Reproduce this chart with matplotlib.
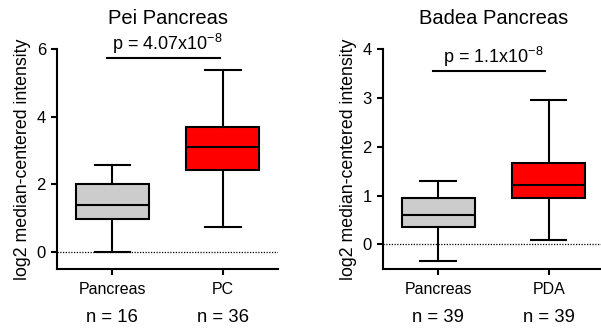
import matplotlib
matplotlib.use("Agg")
import matplotlib.pyplot as plt

plt.rcParams['font.family'] = ['Liberation Sans', 'DejaVu Sans']
plt.rcParams['mathtext.fontset'] = 'custom'
plt.rcParams['mathtext.rm'] = 'Liberation Sans'
plt.rcParams['mathtext.it'] = 'Liberation Sans'

# ---- data ----
pei_titles = "Pei Pancreas"
pei_cats = ["Pancreas", "PC"]
pei_n = [16, 36]
# whislo, q1, med, q3, whishi
pei_pancreas = [0.0, 0.98, 1.40, 2.00, 2.58]
pei_pc = [0.75, 2.43, 3.10, 3.69, 5.39]
pei_p = "p = 4.07x10$^{\\mathregular{-8}}$"
pei_bar_y = 5.74
pei_yticks = [0, 2, 4, 6]
pei_ylim = (-0.5, 6)

badea_title = "Badea Pancreas"
badea_cats = ["Pancreas", "PDA"]
badea_n = [39, 39]
badea_pancreas = [-0.35, 0.35, 0.60, 0.95, 1.30]
badea_pda = [0.08, 0.955, 1.21, 1.66, 2.96]
badea_p = "p = 1.1x10$^{\\mathregular{-8}}$"
badea_bar_y = 3.56
badea_yticks = [0, 1, 2, 3, 4]
badea_ylim = (-0.5, 4)

colors = ["#cccccc", "#ff0000"]

fig = plt.figure(figsize=(6.01, 3.29), dpi=100)
ax1 = fig.add_axes([0.095, 0.183, 0.368, 0.668])
ax2 = fig.add_axes([0.637, 0.183, 0.368, 0.668])


def draw(ax, title, cats, ns, boxes, ptxt, bar_y, yticks, ylim):
    stats = []
    for c, b in zip(cats, boxes):
        stats.append(dict(label=c, whislo=b[0], q1=b[1], med=b[2], q3=b[3], whishi=b[4], fliers=[]))
    bp = ax.bxp(stats, positions=[1, 2], widths=0.66, patch_artist=True, showfliers=False,
                boxprops=dict(linewidth=1.5, edgecolor='black'),
                medianprops=dict(color='black', linewidth=1.5),
                whiskerprops=dict(color='black', linewidth=1.5),
                capprops=dict(color='black', linewidth=1.5), capwidths=0.32)
    for patch, col in zip(bp['boxes'], colors):
        patch.set_facecolor(col)
    ax.axhline(0, color='black', linestyle=(0, (1, 1.2)), linewidth=0.9, zorder=0)
    ax.set_xlim(0.5, 2.5)
    ax.set_ylim(*ylim)
    ax.set_yticks(yticks)
    ax.set_xticks([1, 2])
    ax.set_xticklabels(cats, fontsize=11.5)
    ax.tick_params(axis='y', labelsize=12, width=1.5, length=4.5)
    ax.tick_params(axis='x', width=1.5, length=4.5, pad=5)
    for s in ['top', 'right']:
        ax.spines[s].set_visible(False)
    ax.spines['left'].set_linewidth(1.5)
    ax.spines['bottom'].set_linewidth(1.5)
    ax.spines['left'].set_bounds(ylim[0], yticks[-1])
    ax.set_title(title, fontsize=14.5, pad=18)
    ax.set_ylabel("log2 median-centered intensity", fontsize=12.8, labelpad=4)
    ax.plot([0.95, 1.97], [bar_y, bar_y], color='black', linewidth=1.5, clip_on=False)
    ax.annotate(ptxt, xy=(1.5, bar_y), xytext=(0, 1), textcoords='offset points',
                ha='center', va='bottom', fontsize=13, annotation_clip=False)
    for pos, n in zip([1, 2], ns):
        ax.annotate(f"n = {n}", xy=(pos, 0), xycoords=('data', 'axes fraction'),
                    xytext=(0, -34.8), textcoords='offset points', ha='center', va='center',
                    fontsize=13.3, annotation_clip=False)


draw(ax1, pei_titles, pei_cats, pei_n, [pei_pancreas, pei_pc], pei_p, pei_bar_y, pei_yticks, pei_ylim)
draw(ax2, badea_title, badea_cats, badea_n, [badea_pancreas, badea_pda], badea_p, badea_bar_y, badea_yticks, badea_ylim)

fig.savefig("out.png", dpi=100)
